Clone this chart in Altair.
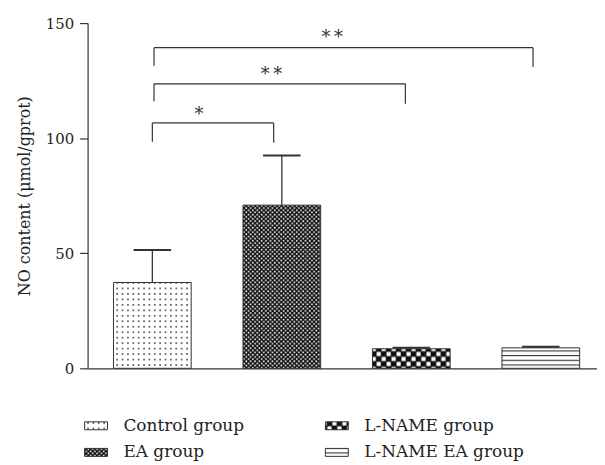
import altair as alt
import pandas as pd
import jinja2

# ---------------- data ----------------
groups = ["Control group", "EA group", "L-NAME group", "L-NAME EA group"]
means = [37.3, 70.9, 8.5, 8.9]
sds = [14.1, 21.6, 0.4, 0.5]

# significance brackets (x in group-index units, y in data units)
br_start = [0.0, 0.013, 0.013]
br_end = [0.937, 1.954, 2.94]
br_level = [106.6, 123.6, 139.3]
br_left_foot = [98.4, 116.0, 131.5]
br_right_foot = [98.0, 115.0, 130.9]
sig_labels = ["*", "*\u2009*", "*\u2009*"]
sig_x = [0.36, 0.92, 1.39]
sig_y = [112.0, 129.7, 145.5]

y_ticks = [0, 50, 100, 150]
legend_fills = ["url(#pDots) #e6e6e6", "url(#pFine) #555", "url(#pCheck) #777", "url(#pLines) #ccc"]

bars = pd.DataFrame({"group": groups, "pos": list(range(len(groups))), "mean": means, "sd": sds})
brackets = pd.DataFrame({"start": br_start, "end": br_end, "level": br_level,
                         "lfoot": br_left_foot, "rfoot": br_right_foot})
sigs = pd.DataFrame({"label": sig_labels, "sx": sig_x, "sy": sig_y})

# ---------------- style ----------------
SERIF = "DejaVu Serif"
INK = "#333333"
HALF_BAR = 0.3
HALF_CAP = 0.145
Y_TITLE = "NO content (\u03bcmol/gprot)"

XS = alt.Scale(domain=[-0.5, 3.434], nice=False, zero=False)
YS = alt.Scale(domain=[0, 150], nice=False)
XAX = alt.Axis(labels=False, ticks=False, grid=False, domainColor=INK, domainWidth=1.2)
YAX = alt.Axis(values=y_ticks, grid=False, tickSize=8, labelPadding=6, titlePadding=13,
               domainColor=INK, tickColor=INK, domainWidth=1.2, tickWidth=1.2,
               labelColor="#222", titleColor="#222", labelFont=SERIF, labelFontSize=15,
               titleFont=SERIF, titleFontSize=16, titleFontWeight="normal")


def X(f):
    return alt.X(f, scale=XS, axis=XAX, title=None)


def Y(f):
    return alt.Y(f, scale=YS, axis=YAX, title=Y_TITLE)


base = alt.Chart(bars).transform_calculate(
    upper="datum.mean + datum.sd",
    left=f"datum.pos - {HALF_BAR}",
    right=f"datum.pos + {HALF_BAR}",
    capl=f"datum.pos - {HALF_CAP}",
    capr=f"datum.pos + {HALF_CAP}",
)

bar_layer = base.mark_rect(stroke=INK, strokeWidth=1).encode(
    x=X("left:Q"), x2="right:Q",
    y=Y("mean:Q"), y2=alt.datum(0),
    color=alt.Color("group:N", scale=alt.Scale(domain=groups, range=legend_fills),
                    legend=alt.Legend(orient="none", legendX=0, legendY=396, columns=2, title=None,
                                      symbolType="M-2.875,-1H2.875V1H-2.875Z", symbolSize=64,
                                      symbolStrokeColor=INK, symbolStrokeWidth=1, symbolOpacity=1,
                                      labelFont=SERIF, labelFontSize=17, labelColor="#222",
                                      labelLimit=0, labelOffset=19, columnPadding=79, rowPadding=9)),
)

whisker = base.mark_rule(color=INK, strokeWidth=1.3).encode(
    x=X("pos:Q"), y=Y("mean:Q"), y2="upper:Q")
caps = base.mark_rule(color=INK, strokeWidth=2).encode(
    x=X("capl:Q"), x2="capr:Q", y=Y("upper:Q"))

bb = alt.Chart(brackets)
br_h = bb.mark_rule(color=INK, strokeWidth=1.2).encode(x=X("start:Q"), x2="end:Q", y=Y("level:Q"))
br_l = bb.mark_rule(color=INK, strokeWidth=1.2).encode(x=X("start:Q"), y=Y("level:Q"), y2="lfoot:Q")
br_r = bb.mark_rule(color=INK, strokeWidth=1.2).encode(x=X("end:Q"), y=Y("level:Q"), y2="rfoot:Q")

stars = alt.Chart(sigs).mark_text(font=SERIF, fontSize=18, color=INK, baseline="alphabetic",
                                  align="center", dy=10).encode(
    x=X("sx:Q"), y=Y("sy:Q"), text="label:N")

chart = alt.layer(bar_layer, whisker, caps, br_h, br_l, br_r, stars).properties(
    width=512, height=347,
    padding={"left": 8, "top": 7, "right": 0, "bottom": 0},
).configure_view(stroke=None)

PATTERNS = """
<svg width="0" height="0" style="position:absolute;left:0;top:0" aria-hidden="true">
 <defs>
  <pattern id="pDots" patternUnits="userSpaceOnUse" width="5.4" height="5.5">
   <rect width="5.4" height="5.5" fill="#ffffff"/>
   <rect x="2" y="2" width="1.5" height="1.4" fill="#1a1a1a"/>
  </pattern>
  <pattern id="pFine" patternUnits="userSpaceOnUse" width="4.4" height="4.4">
   <rect width="4.4" height="4.4" fill="#111111"/>
   <rect x="0.3" y="0.3" width="1.6" height="1.6" fill="#ffffff"/>
   <rect x="2.5" y="2.5" width="1.6" height="1.6" fill="#ffffff"/>
  </pattern>
  <pattern id="pCheck" patternUnits="userSpaceOnUse" width="10" height="10">
   <rect width="10" height="10" fill="#111111"/>
   <rect x="0.5" y="0.5" width="4.2" height="4.2" fill="#ffffff"/>
   <rect x="5.5" y="5.5" width="4.2" height="4.2" fill="#ffffff"/>
  </pattern>
  <pattern id="pLines" patternUnits="userSpaceOnUse" width="8" height="4.7">
   <rect width="8" height="4.7" fill="#ffffff"/>
   <rect y="0" width="8" height="1.1" fill="#333333"/>
  </pattern>
 </defs>
</svg>
"""

TEMPLATE = jinja2.Template("""<!DOCTYPE html>
<html>
<head>
  <meta charset="utf-8">
  <style>
    body { overflow: hidden; }
    #{{ output_div }}.vega-embed { width: 100%; display: flex; }
    #{{ output_div }}.vega-embed details,
    #{{ output_div }}.vega-embed details summary { position: relative; }
  </style>
  <script type="text/javascript" src="{{ base_url }}/vega@{{ vega_version }}"></script>
  <script type="text/javascript" src="{{ base_url }}/vega-lite@{{ vegalite_version }}"></script>
  <script type="text/javascript" src="{{ base_url }}/vega-embed@{{ vegaembed_version }}"></script>
</head>
<body>
""" + PATTERNS + """
  <div id="{{ output_div }}"></div>
  <script>
    (function(vegaEmbed) {
      var spec = {{ spec }};
      var embedOpt = {{ embed_options }};
      function showError(el, error){
          el.innerHTML = ('<div style="color:red;"><p>JavaScript Error: ' + error.message + '</p></div>');
          throw error;
      }
      const el = document.getElementById('{{ output_div }}');
      vegaEmbed("#{{ output_div }}", spec, embedOpt).catch(error => showError(el, error));
    })(vegaEmbed);
  </script>
</body>
</html>
""")

chart.save("out.html", embed_options={"renderer": "svg", "actions": False}, template=TEMPLATE)
